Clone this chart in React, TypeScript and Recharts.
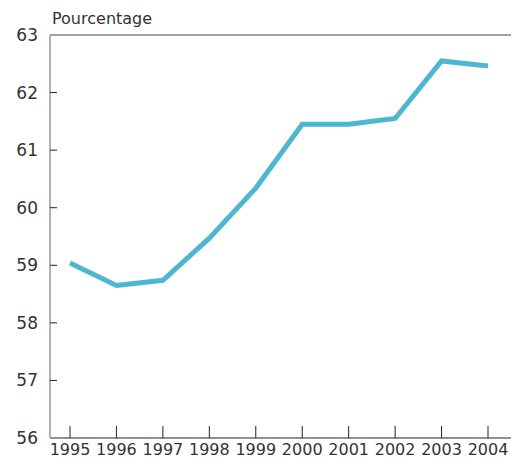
import React from "react";
import { LineChart, Line, XAxis, YAxis, ReferenceLine } from "recharts";

const years = [1995, 1996, 1997, 1998, 1999, 2000, 2001, 2002, 2003, 2004];
const values = [59.04, 58.65, 58.74, 59.47, 60.34, 61.45, 61.45, 61.55, 62.55, 62.46];
const yTicks = [56, 57, 58, 59, 60, 61, 62, 63];
const yLabel = "Pourcentage";

const data = years.map((y, i) => ({ year: y, value: values[i] }));

const FONT = "'DejaVu Sans', sans-serif";

const YTick = (props: any) => {
  const { y, payload } = props;
  const axisX = 50;
  return (
    <g>
      {payload.value !== 56 && payload.value !== 63 && (
        <line x1={axisX} x2={axisX + 7} y1={y} y2={y} stroke="#222" strokeWidth={1} />
      )}
      <text x={38} y={y} dy={6} textAnchor="end" fontFamily={FONT} fontSize={17} fill="#333">
        {payload.value}
      </text>
    </g>
  );
};

const XTick = (props: any) => {
  const { x, payload } = props;
  const axisY = 438;
  return (
    <g>
      <line x1={x} x2={x} y1={axisY} y2={axisY - 12} stroke="#222" strokeWidth={1} />
      <text x={x} y={455} textAnchor="middle" fontFamily={FONT} fontSize={16} fill="#333">
        {payload.value}
      </text>
    </g>
  );
};

export default function App() {
  return (
    <div style={{ position: "absolute", left: 0, top: 0, width: 514, height: 459, background: "#fff" }}>
      <div
        style={{
          position: "absolute",
          left: 52,
          top: 9,
          fontFamily: FONT,
          fontSize: 16,
          color: "#333",
          lineHeight: "20px",
        }}
      >
        {yLabel}
      </div>
      <LineChart
        width={514}
        height={459}
        data={data}
        margin={{ top: 35, right: 3, left: 0, bottom: 0 }}
      >
        <XAxis
          dataKey="year"
          type="number"
          domain={[1995, 2004]}
          ticks={years}
          padding={{ left: 20, right: 23 }}
          tick={<XTick />}
          tickLine={false}
          axisLine={{ stroke: "#222", strokeWidth: 1 }}
          height={21}
          interval={0}
        />
        <YAxis
          type="number"
          domain={[56, 63]}
          ticks={yTicks}
          width={50}
          tick={<YTick />}
          tickLine={false}
          axisLine={{ stroke: "#999", strokeWidth: 1.5 }}
          interval={0}
        />
        <ReferenceLine y={63} stroke="#444" strokeWidth={1} />
        <Line
          dataKey="value"
          type="linear"
          stroke="#4db6d0"
          strokeWidth={5}
          dot={false}
          isAnimationActive={false}
        />
      </LineChart>
    </div>
  );
}
